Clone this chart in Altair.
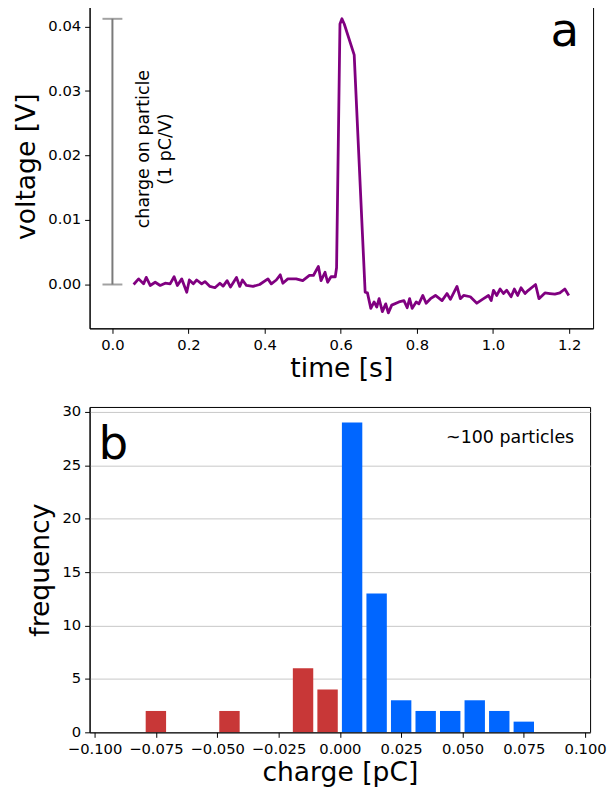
import altair as alt
import pandas as pd

FONT = "DejaVu Sans"

# ---------------- panel a: voltage trace ----------------
time_s = [0.0557, 0.0688, 0.0818, 0.0889, 0.0993, 0.1124, 0.1255, 0.1386, 0.1516, 0.1621,
          0.1707, 0.1822, 0.1953, 0.2021, 0.2125, 0.2214, 0.2345, 0.2431, 0.2562, 0.2693,
          0.2824, 0.2910, 0.3014, 0.3103, 0.3260, 0.3346, 0.3417, 0.3522, 0.3694, 0.3869,
          0.4086, 0.4175, 0.4306, 0.4410, 0.4478, 0.4609, 0.4829, 0.5001, 0.5176, 0.5281,
          0.5412, 0.5482, 0.5587, 0.5655, 0.5744, 0.5856, 0.5890, 0.5979, 0.6031, 0.6092,
          0.6353, 0.6570, 0.6641, 0.6701, 0.6790, 0.6876, 0.6946, 0.7007, 0.7093, 0.7182,
          0.7250, 0.7339, 0.7529, 0.7660, 0.7746, 0.7809, 0.7877, 0.7982, 0.8052, 0.8157,
          0.8243, 0.8358, 0.8489, 0.8661, 0.8792, 0.8881, 0.9054, 0.9142, 0.9229, 0.9404,
          0.9576, 0.9752, 0.9882, 0.9953, 1.0013, 1.0099, 1.0188, 1.0275, 1.0361, 1.0476,
          1.0562, 1.0648, 1.0737, 1.0842, 1.0928, 1.1119, 1.1208, 1.1365, 1.1495, 1.1626,
          1.1757, 1.1888, 1.1992]
voltage_v = [0.0000, 0.00087, 0.0001, 0.0011, -0.00015, 0.00035, -0.00015, 0.0002, 0.0001, 0.0012,
             -0.00015, 0.00087, -0.0012, 0.0007, 0.0001, 0.0007, 0.0001, 0.00045, -0.0003, -0.0005,
             0.0002, -0.00025, 0.0006, -0.0004, 0.0011, -0.0003, 0.0007, -0.00015, -0.0003, 0.0000,
             0.00087, 0.0001, 0.0007, 0.0015, 0.0002, 0.00087, 0.00087, 0.0006, 0.0014, 0.0014,
             0.0028, 0.0006, 0.0019, 0.00035, 0.0012, 0.0012, 0.0026, 0.0404, 0.0412, 0.0404,
             0.0356, 0.0078, -0.0012, -0.0013, -0.0037, -0.0027, -0.0035, -0.0022, -0.0042, -0.0030,
             -0.0044, -0.0032, -0.0027, -0.0025, -0.0036, -0.0022, -0.0037, -0.0027, -0.0030, -0.0017,
             -0.0029, -0.0022, -0.0017, -0.0025, -0.0014, -0.0023, -0.0003, -0.0022, -0.0017, -0.0019,
             -0.0029, -0.0022, -0.0017, -0.0025, -0.0009, -0.0017, -0.0007, -0.0014, -0.0009, -0.0019,
             -0.0007, -0.0017, -0.0005, -0.0014, -0.0009, 0.0000, -0.0022, -0.0013, -0.0014, -0.0015,
             -0.0013, -0.0007, -0.0017]

err_time = [0.0]
err_low = [0.0]
err_high = [0.0412]
cap_time = [0.0, 0.0]
cap_volt = [0.0, 0.0412]

note_time = [0.083]
note_volt = [0.021]
note_text = ["charge on particle\n(1 pC/V)"]

x_ticks_a = [0.0, 0.2, 0.4, 0.6, 0.8, 1.0, 1.2]
y_ticks_a = [0.0, 0.01, 0.02, 0.03, 0.04]

# ---------------- panel b: histogram ----------------
bar_charge = [-0.075, -0.045, -0.015, -0.005, 0.005, 0.015, 0.025, 0.035, 0.045, 0.055, 0.065, 0.075]
bar_freq = [2, 2, 6, 4, 29, 13, 3, 2, 2, 3, 2, 1]
bar_sign = ["negative"] * 4 + ["positive"] * 8

x_ticks_b = [-0.1, -0.075, -0.05, -0.025, 0.0, 0.025, 0.05, 0.075, 0.1]
y_ticks_b = [0, 5, 10, 15, 20, 25, 30]

panel_labels = ["a", "b"]
count_text = ["~100 particles"]

# ---------------- build ----------------
sig = pd.DataFrame({"t": time_s, "v": voltage_v})
err_df = pd.DataFrame({"t": err_time, "lo": err_low, "hi": err_high})
cap_df = pd.DataFrame({"t": cap_time, "v": cap_volt})
note_df = pd.DataFrame({"t": note_time, "v": note_volt, "label": note_text})

xs = alt.Scale(domain=[-0.06, 1.263], nice=False, zero=False)
ys = alt.Scale(domain=[-0.0068, 0.0435], nice=False, zero=False)

X_TITLE = "time [s]"
Y_TITLE = "voltage [V]"

line = alt.Chart(sig).mark_line(color="#800080", strokeWidth=2.8, strokeJoin="round").encode(
    x=alt.X("t:Q", scale=xs, title=X_TITLE,
            axis=alt.Axis(values=x_ticks_a, format=".1f", grid=False)),
    y=alt.Y("v:Q", scale=ys, title=Y_TITLE,
            axis=alt.Axis(values=y_ticks_a, format=".2f", grid=False)),
)
err = alt.Chart(err_df).mark_rule(color="#7a7a7a", strokeWidth=2).encode(
    x=alt.X("t:Q", scale=xs, title=X_TITLE),
    y=alt.Y("lo:Q", scale=ys, title=Y_TITLE),
    y2="hi:Q",
)
caps = alt.Chart(cap_df).mark_tick(color="#7a7a7a", orient="horizontal", size=20, thickness=2).encode(
    x=alt.X("t:Q", scale=xs, title=X_TITLE),
    y=alt.Y("v:Q", scale=ys, title=Y_TITLE),
)
note = alt.Chart(note_df).mark_text(
    angle=270, fontSize=17.5, font=FONT, lineBreak="\n", align="center",
    baseline="middle", lineHeight=22, color="black"
).encode(
    x=alt.X("t:Q", scale=xs, title=X_TITLE),
    y=alt.Y("v:Q", scale=ys, title=Y_TITLE),
    text="label:N",
)
lab_a = alt.Chart(pd.DataFrame({"label": [panel_labels[0]]})).mark_text(
    fontSize=47, font=FONT, align="right", baseline="alphabetic", color="black"
).encode(x=alt.value(492), y=alt.value(42), text="label:N")

top = alt.layer(err, caps, line, note, lab_a).properties(width=506, height=326)

hist_df = pd.DataFrame({"charge": bar_charge, "freq": bar_freq, "sign": bar_sign})
bars = alt.Chart(hist_df).mark_bar(size=20.5).encode(
    x=alt.X("charge:Q", scale=alt.Scale(domain=[-0.1, 0.1], nice=False, zero=False),
            title="charge [pC]",
            axis=alt.Axis(values=x_ticks_b, format=".3f", grid=False, zindex=1)),
    y=alt.Y("freq:Q", scale=alt.Scale(domain=[0, 30.45], nice=False),
            title="frequency",
            axis=alt.Axis(values=y_ticks_b, format="d", grid=True, gridColor="#c8c8c8",
                          gridWidth=1)),
    color=alt.Color("sign:N", scale=alt.Scale(domain=["negative", "positive"],
                                              range=["#C83737", "#0066FF"]), legend=None),
)
lab_b = alt.Chart(pd.DataFrame({"label": [panel_labels[1]]})).mark_text(
    fontSize=47, font=FONT, align="left", baseline="alphabetic", color="black"
).encode(x=alt.value(9), y=alt.value(52), text="label:N")
count = alt.Chart(pd.DataFrame({"label": count_text})).mark_text(
    fontSize=17.5, font=FONT, align="right", baseline="alphabetic", color="black"
).encode(x=alt.value(487), y=alt.value(36), text="label:N")

bottom = alt.layer(bars, lab_b, count).properties(width=503, height=327)

chart = alt.vconcat(top, bottom, spacing=20).properties(
    padding={"left": 5, "top": -7, "right": 0, "bottom": 0}
).configure_view(
    stroke="black", strokeWidth=1
).configure_axis(
    domainColor="black", tickColor="black", tickSize=5, tickWidth=1,
    labelFont=FONT, labelFontSize=14.8, labelColor="black", labelPadding=4,
    titleFont=FONT, titleFontSize=26.7, titleFontWeight="normal", titleColor="black",
    titlePadding=7,
).configure_axisX(
    titlePadding=4
)

chart.save("out.html", embed_options={"renderer": "svg", "actions": False})
